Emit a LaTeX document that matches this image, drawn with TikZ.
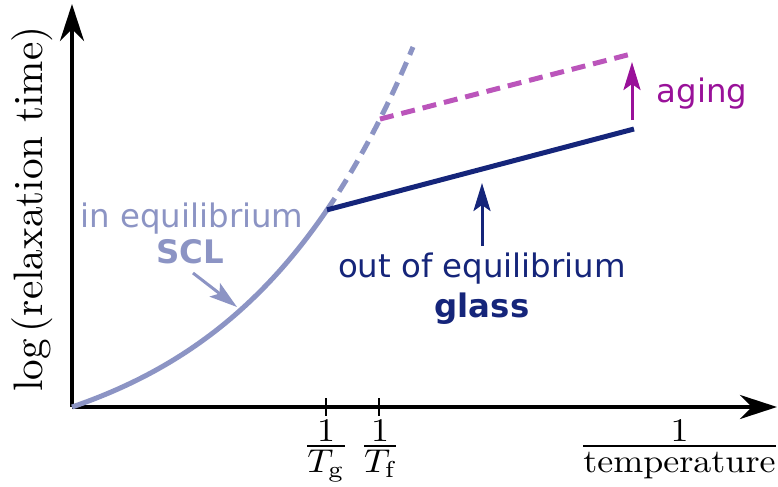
\documentclass[tikz,border=0pt]{standalone}
\usepackage{amsmath}
\usepackage{fontspec}
\usepackage{graphicx}
\newfontfamily\dejavu{DejaVu Sans}
\usetikzlibrary{arrows.meta}
\definecolor{scl}{RGB}{140,148,196}
\definecolor{glassc}{RGB}{21,37,122}
\definecolor{agedash}{RGB}{187,85,187}
\definecolor{agec}{RGB}{153,17,153}
\newcommand{\wideFrac}[2]{\scalebox{1.8}[1.65]{$\genfrac{}{}{0.65pt}{1}{\textstyle #1}{\textstyle\rule{0pt}{7.2pt}#2}$}}
\newcommand{\bigLabel}[1]{\scalebox{2.06}{#1}}
\begin{document}
\begin{tikzpicture}[x=0.5pt,y=-0.5pt,
  axis/.style={line width=2pt,-{Stealth[length=18.5pt,width=12pt,inset=6pt]}},
  tickmark/.style={line width=1pt},
  lbl/.style={font=\dejavu\fontsize{16.2}{19}\selectfont},
  blbl/.style={font=\dejavu\bfseries\fontsize{16.2}{19}\selectfont},
  fraclbl/.style={inner sep=0pt},
  ylbl/.style={inner sep=0pt},
  pointer/.style={line width=1.5pt,-{Stealth[length=14pt,width=8.5pt,inset=3pt]}},
  thick curve/.style={line width=2.5pt},
  dashline/.style={line width=2.5pt,dash pattern=on 7pt off 4pt},
]
\useasboundingbox (0,0) rectangle (778,487);
% axes
\coordinate (O) at (72,407);
\coordinate (Ytip) at (72,4);
\coordinate (Xtip) at (777,407);
\draw[axis] (O) -- (Ytip);
\draw[axis] (O) -- (Xtip);
% key points on the curve
\coordinate (G) at (327,{407-60*(exp(0.0057*255)-1)});
\coordinate (F) at (380,{407-60*(exp(0.0057*308)-1)});
\coordinate (GE) at (634,129);
\coordinate (FE) at (635,53);
% ticks
\coordinate (TgT) at (326,398); \coordinate (TgB) at (326,416);
\coordinate (TfT) at (379,398); \coordinate (TfB) at (379,416);
\draw[tickmark] (TgT) -- (TgB);
\draw[tickmark] (TfT) -- (TfB);
% supercooled liquid curve
\draw[scl,thick curve] plot[domain=0:255,samples=80] ({72+\x},{407-60*(exp(0.0057*\x)-1)});
\draw[scl,dashline] plot[domain=255:341,samples=40] ({72+\x},{407-60*(exp(0.0057*\x)-1)});
% glass lines
\draw[glassc,thick curve] (G) -- (GE);
\draw[agedash,dashline] (F) -- (FE);
% aging arrow
\coordinate (AgA) at (632,120);
\coordinate (AgB) at (632,62);
\draw[agec,pointer] (AgA) -- (AgB);
\node[lbl,anchor=base,text=agec] (ag) at (702,102) {aging};
% labels
\node[lbl,anchor=base,text=scl] (eq) at (192,227) {in equilibrium};
\node[blbl,anchor=base,text=scl] (sclt) at (190,263) {SCL};
\coordinate (SA) at (193,273);
\coordinate (SB) at (237,307);
\draw[scl,pointer] (SA) -- (SB);
\node[lbl,anchor=base,text=glassc] (oeq) at (482,277) {out of equilibrium};
\node[blbl,anchor=base,text=glassc] (gl) at (482,317) {glass};
\coordinate (GA) at (482,246);
\coordinate (GB) at (482,183);
\draw[glassc,pointer] (GA) -- (GB);
% axis labels
\node[fraclbl,anchor=base] (lg) at (326,454) {\wideFrac{1}{T_{\mathrm{g}}}};
\node[fraclbl,anchor=base] (lf) at (380,454) {\wideFrac{1}{T_{\mathrm{f}}}};
\node[fraclbl,anchor=base] (lt) at (679.5,454) {\wideFrac{1}{\mathrm{temperature}}};
\node[ylbl,rotate=90,anchor=base] (ly) at (42,209) {\bigLabel{$\log\left(\mathrm{relaxation\ time}\right)$}};
\end{tikzpicture}
\end{document}
